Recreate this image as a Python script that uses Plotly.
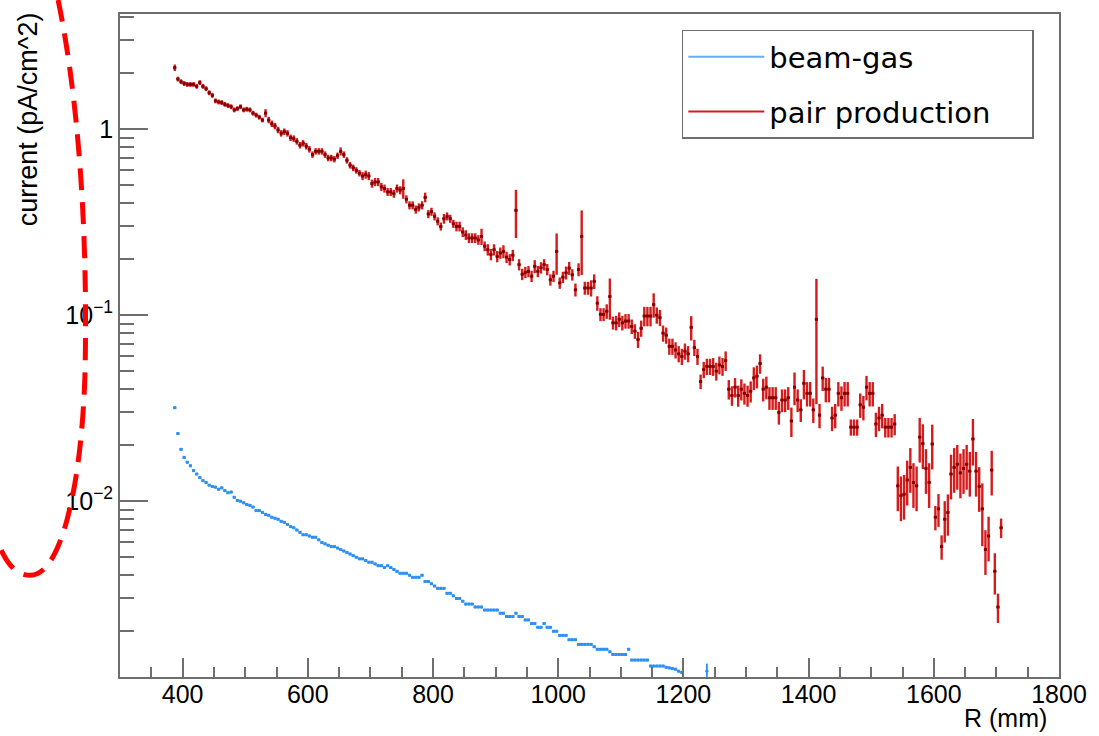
import math
import plotly.graph_objects as go

# ---------------- data ----------------
BIN_START = 387.5   # first bin centre (mm)
BIN_STEP = 5.0      # bin width (mm)

pair_current = [
    2.14, 1.86, 1.80, 1.76, 1.74, 1.74, 1.74, 1.70, 1.78, 1.70,
    1.65, 1.57, 1.52, 1.42, 1.40, 1.39, 1.36, 1.34, 1.32, 1.27,
    1.29, 1.32, 1.27, 1.28, 1.27, 1.22, 1.19, 1.16, 1.12, 1.22,
    1.12, 1.07, 1.04, 0.99, 0.95, 0.97, 0.95, 0.90, 0.89, 0.86,
    0.82, 0.84, 0.81, 0.78, 0.73, 0.76, 0.76, 0.76, 0.73, 0.70,
    0.70, 0.69, 0.72, 0.76, 0.73, 0.68, 0.64, 0.62, 0.60, 0.58,
    0.56, 0.57, 0.56, 0.51, 0.52, 0.52, 0.49, 0.48, 0.46, 0.46,
    0.45, 0.48, 0.47, 0.48, 0.42, 0.39, 0.39, 0.37, 0.38, 0.39,
    0.43, 0.35, 0.36, 0.34, 0.32, 0.30, 0.33, 0.34, 0.33, 0.31,
    0.30, 0.30, 0.28, 0.27, 0.26, 0.26, 0.26, 0.254, 0.265, 0.235,
    0.225, 0.212, 0.225, 0.207, 0.216, 0.22, 0.205, 0.199, 0.21, 0.366,
    0.187, 0.166, 0.17, 0.172, 0.162, 0.183, 0.172, 0.18, 0.187, 0.176,
    0.155, 0.162, 0.22, 0.149, 0.16, 0.169, 0.179, 0.165, 0.137, 0.176,
    0.265, 0.14, 0.14, 0.14, 0.152, 0.116, 0.101, 0.101, 0.105, 0.126,
    0.091, 0.091, 0.095, 0.091, 0.093, 0.093, 0.087, 0.082, 0.074, 0.085,
    0.099, 0.099, 0.099, 0.114, 0.10, 0.097, 0.080, 0.078, 0.068, 0.068,
    0.065, 0.062, 0.060, 0.064, 0.062, 0.086, 0.067, 0.060, 0.044, 0.051,
    0.053, 0.053, 0.053, 0.050, 0.054, 0.053, 0.057, 0.040, 0.037, 0.041,
    0.037, 0.040, 0.038, 0.037, 0.039, 0.046, 0.047, 0.055, 0.040, 0.041,
    0.036, 0.036, 0.036, 0.030, 0.035, 0.035, 0.036, 0.027, 0.041, 0.035,
    0.031, 0.043, 0.038, 0.038, 0.031, 0.095, 0.029, 0.046, 0.040, 0.040,
    0.028, 0.029, 0.038, 0.036, 0.038, 0.038, 0.025, 0.025, 0.025, 0.033,
    0.032, 0.041, 0.038, 0.038, 0.026, 0.028, 0.029, 0.025, 0.025, 0.025,
    0.026, 0.0121, 0.0107, 0.0109, 0.0130, 0.0152, 0.0126, 0.0121, 0.0221, 0.0204,
    0.0150, 0.0126, 0.0203, 0.0082, 0.0091, 0.0057, 0.0080, 0.0087, 0.0140, 0.0152,
    0.0158, 0.0142, 0.0150, 0.0158, 0.0145, 0.0216, 0.0145, 0.0120, 0.0091, 0.0055,
    0.0065, 0.0147, 0.0042, 0.0027, 0.0072,
]

# relative statistical error of each pair-production bin
pair_relerr = [
    0.04, 0.03, 0.03, 0.03, 0.03, 0.03, 0.03, 0.03, 0.03, 0.03,
    0.03, 0.03, 0.03, 0.03, 0.03, 0.03, 0.03, 0.03, 0.03, 0.03,
    0.03, 0.03, 0.03, 0.03, 0.03, 0.03, 0.03, 0.03, 0.03, 0.05,
    0.04, 0.04, 0.04, 0.04, 0.04, 0.04, 0.04, 0.04, 0.04, 0.04,
    0.04, 0.04, 0.04, 0.04, 0.04, 0.04, 0.04, 0.04, 0.04, 0.04,
    0.04, 0.04, 0.04, 0.05, 0.04, 0.04, 0.04, 0.04, 0.04, 0.04,
    0.05, 0.05, 0.05, 0.05, 0.05, 0.05, 0.05, 0.05, 0.05, 0.05,
    0.05, 0.05, 0.05, 0.12, 0.05, 0.05, 0.05, 0.05, 0.05, 0.05,
    0.06, 0.05, 0.05, 0.05, 0.05, 0.05, 0.06, 0.05, 0.05, 0.05,
    0.06, 0.06, 0.06, 0.06, 0.06, 0.06, 0.06, 0.06, 0.10, 0.06,
    0.07, 0.07, 0.07, 0.07, 0.07, 0.08, 0.07, 0.07, 0.07, 0.29,
    0.07, 0.07, 0.07, 0.07, 0.07, 0.08, 0.07, 0.07, 0.07, 0.07,
    0.07, 0.07, 0.25, 0.07, 0.07, 0.08, 0.08, 0.07, 0.08, 0.08,
    0.38, 0.08, 0.08, 0.10, 0.09, 0.09, 0.08, 0.08, 0.09, 0.25,
    0.08, 0.09, 0.09, 0.09, 0.09, 0.09, 0.09, 0.09, 0.10, 0.10,
    0.12, 0.12, 0.12, 0.15, 0.10, 0.10, 0.10, 0.10, 0.10, 0.10,
    0.10, 0.10, 0.10, 0.10, 0.10, 0.15, 0.10, 0.10, 0.09, 0.10,
    0.10, 0.10, 0.11, 0.11, 0.11, 0.11, 0.12, 0.12, 0.12, 0.12,
    0.13, 0.13, 0.13, 0.13, 0.13, 0.14, 0.14, 0.12, 0.14, 0.14,
    0.14, 0.14, 0.14, 0.14, 0.14, 0.14, 0.14, 0.18, 0.20, 0.14,
    0.14, 0.18, 0.15, 0.15, 0.15, 0.65, 0.15, 0.15, 0.15, 0.15,
    0.15, 0.15, 0.15, 0.15, 0.15, 0.15, 0.10, 0.10, 0.10, 0.15,
    0.15, 0.15, 0.15, 0.15, 0.15, 0.15, 0.15, 0.12, 0.12, 0.12,
    0.13, 0.27, 0.27, 0.27, 0.27, 0.27, 0.27, 0.27, 0.27, 0.27,
    0.27, 0.27, 0.27, 0.15, 0.20, 0.15, 0.25, 0.25, 0.27, 0.27,
    0.27, 0.27, 0.27, 0.27, 0.27, 0.28, 0.27, 0.27, 0.37, 0.27,
    0.27, 0.27, 0.25, 0.18, 0.12,
]

beamgas_current = [
    0.0318, 0.0231, 0.0190, 0.0172, 0.0162, 0.0155, 0.0146, 0.0140, 0.0134, 0.0129,
    0.0126, 0.0122, 0.0120, 0.0119, 0.0116, 0.0118, 0.0114, 0.0111, 0.0112, 0.0105,
    0.0101, 0.0100, 0.0098, 0.0096, 0.0095, 0.0093, 0.0089, 0.0089, 0.0087, 0.0085,
    0.0084, 0.0082, 0.0081, 0.0080, 0.0078, 0.0077, 0.0075, 0.0073, 0.0072, 0.0070,
    0.0068, 0.0066, 0.0066, 0.0065, 0.0064, 0.0064, 0.0062, 0.0060, 0.0059, 0.0058,
    0.0057, 0.0057, 0.0056, 0.0055, 0.0054, 0.0053, 0.0052, 0.0051, 0.0050, 0.0049,
    0.0049, 0.0048, 0.0047, 0.0047, 0.0046, 0.0045, 0.0045, 0.0044, 0.0045, 0.0044,
    0.0043, 0.0042, 0.0041, 0.0041, 0.0041, 0.0040, 0.0039, 0.0039, 0.0039, 0.0040,
    0.0037, 0.0037, 0.0036, 0.0035, 0.0034, 0.0034, 0.0034, 0.0032, 0.0032, 0.0031,
    0.0030, 0.0030, 0.0029, 0.0028, 0.0028, 0.0028, 0.0027, 0.0027, 0.0027, 0.0026,
    0.0026, 0.0026, 0.0026, 0.0026, 0.0025, 0.0025, 0.0024, 0.0024, 0.0024, 0.0025,
    0.0024, 0.0024, 0.0023, 0.0023, 0.0022, 0.0022, 0.0021, 0.0021, 0.0022, 0.0021,
    0.0021, 0.0020, 0.0020, 0.0019, 0.0019, 0.0019, 0.0018, 0.0018, 0.0018, 0.0017,
    0.0017, 0.0017, 0.0017, 0.0017, 0.00165, 0.0016, 0.0016, 0.0016, 0.0016, 0.00155,
    0.0015, 0.0015, 0.0015, 0.0015, 0.0015, 0.0016, 0.0014, 0.0014, 0.0014, 0.0014,
    0.0014, 0.0014, 0.0013, 0.0013, 0.0013, 0.0013, 0.0013, 0.00128, 0.00127, 0.00126,
    0.00125, 0.00122, 0.0012,
]
beamgas_relerr = 0.015          # tiny error bars on beam-gas bins

# isolated beam-gas bin beyond the continuous part
beamgas_extra_R = [1237.5]
beamgas_extra_current = [0.00122]
beamgas_extra_err = [0.00012]

x_ticks = [400, 600, 800, 1000, 1200, 1400, 1600, 1800]
y_tickvals = [0.01, 0.1, 1]
y_ticktext = ["10<sup>\u22122</sup>", "10<sup>\u22121</sup>", "1"]

# --------------- derived ---------------
pair_R = [BIN_START + BIN_STEP * i for i in range(len(pair_current))]
pair_err = [v * e for v, e in zip(pair_current, pair_relerr)]
bg_R = [BIN_START + BIN_STEP * i for i in range(len(beamgas_current))]
bg_err = [v * beamgas_relerr for v in beamgas_current]

BLUE = "#2f90f4"
BLUE_LEG = "#5eb0ff"
RED = "#d41c1c"
RED_DARK = "#8a0000"
AXIS = "#6e6e6e"
FONT = "Liberation Sans, Arial, sans-serif"

fig = go.Figure()

fig.add_trace(go.Scatter(
    x=bg_R, y=beamgas_current, mode="markers", showlegend=False,
    marker=dict(color=BLUE, size=3, symbol="square"),
    error_x=dict(type="constant", value=BIN_STEP / 2, color=BLUE, thickness=2, width=0),
    error_y=dict(type="data", array=bg_err, color=BLUE, thickness=1.5, width=0),
))
fig.add_trace(go.Scatter(
    x=beamgas_extra_R, y=beamgas_extra_current, mode="markers", showlegend=False,
    marker=dict(color=BLUE, size=2.5, symbol="square"),
    error_x=dict(type="constant", value=BIN_STEP / 2, color=BLUE, thickness=1.8, width=0),
    error_y=dict(type="data", array=beamgas_extra_err, color=BLUE, thickness=1.8, width=0),
))
fig.add_trace(go.Scatter(
    x=pair_R, y=pair_current, mode="markers", showlegend=False,
    marker=dict(color=RED_DARK, size=3, symbol="square"),
    error_x=dict(type="constant", value=BIN_STEP / 2, color=RED_DARK, thickness=1.6, width=0),
    error_y=dict(type="data", array=pair_err, color=RED, thickness=2.4, width=0),
))

# legend entries (line samples like the reference)
fig.add_trace(go.Scatter(x=[None], y=[None], mode="lines",
                         name="beam-gas", legendgroup="bg",
                         line=dict(color=BLUE_LEG, width=2)))
fig.add_trace(go.Scatter(x=[None], y=[None], mode="lines",
                         name="pair production\u00a0\u00a0\u00a0\u00a0", legendgroup="pp",
                         line=dict(color=RED, width=2)))

# plot-area geometry in pixels (for annotations)
L, R_, T, B = 120, 1061, 12, 677
PW, PH = R_ - L, B - T


def px(xp):
    return (xp - L) / PW


def py(yp):
    return (B - yp) / PH


fig.update_layout(
    width=1099, height=736,
    margin=dict(l=L, r=1099 - R_, t=T, b=736 - B),
    paper_bgcolor="white", plot_bgcolor="white",
    font=dict(family=FONT, size=25, color="black"),
    showlegend=True,
    legend=dict(
        x=px(683), y=py(28), xanchor="left", yanchor="top",
        bgcolor="white", bordercolor=AXIS, borderwidth=1.5,
        font=dict(family="DejaVu Sans, sans-serif", size=29, color="black"),
        itemwidth=76, tracegroupgap=14,
    ),
    xaxis=dict(
        range=[300, 1800], tickmode="array", tickvals=x_ticks,
        ticks="inside", ticklen=19, tickwidth=1.5, tickcolor=AXIS,
        showline=True, linecolor=AXIS, linewidth=1.8, mirror=True,
        showgrid=False, zeroline=False,
        tickfont=dict(size=25), ticklabelstandoff=-6,
        minor=dict(ticks="inside", ticklen=10, tickwidth=1.5, tickcolor=AXIS,
                   dtick=50, showgrid=False),
    ),
    yaxis=dict(
        type="log", range=[math.log10(0.001135), math.log10(4.16)],
        tickmode="array", tickvals=y_tickvals, ticktext=y_ticktext,
        ticks="inside", ticklen=28, tickwidth=1.5, tickcolor=AXIS,
        showline=True, linecolor=AXIS, linewidth=1.8, mirror=True,
        showgrid=False, zeroline=False,
        tickfont=dict(size=25),
        minor=dict(ticks="inside", ticklen=14, tickwidth=1.5, tickcolor=AXIS,
                   dtick="D1", showgrid=False),
    ),
    annotations=[
        dict(text="R (mm)", xref="paper", yref="paper", x=px(1051), y=py(718),
             xanchor="right", yanchor="middle", showarrow=False,
             font=dict(family=FONT, size=25)),
        dict(text="current (pA/cm^2)", xref="paper", yref="paper", x=px(28), y=py(8),
             xanchor="center", yanchor="top", textangle=-90, showarrow=False,
             font=dict(family=FONT, size=27)),
    ],
    shapes=[
        dict(type="path", xref="paper", yref="paper",
             path="M {:.4f},{:.4f} C {:.4f},{:.4f} {:.4f},{:.4f} {:.4f},{:.4f} "
                  "C {:.4f},{:.4f} {:.4f},{:.4f} {:.4f},{:.4f} "
                  "C {:.4f},{:.4f} {:.4f},{:.4f} {:.4f},{:.4f}".format(
                      px(58), py(-2),
                      px(77), py(90), px(88), py(220), px(85), py(370),
                      px(82), py(480), px(62), py(575), px(30), py(575),
                      px(15), py(575), px(5), py(562), px(-4), py(538)),
             line=dict(color="#ff0000", width=5, dash="22px,12px")),
    ],
)

fig.write_html("out.html")
